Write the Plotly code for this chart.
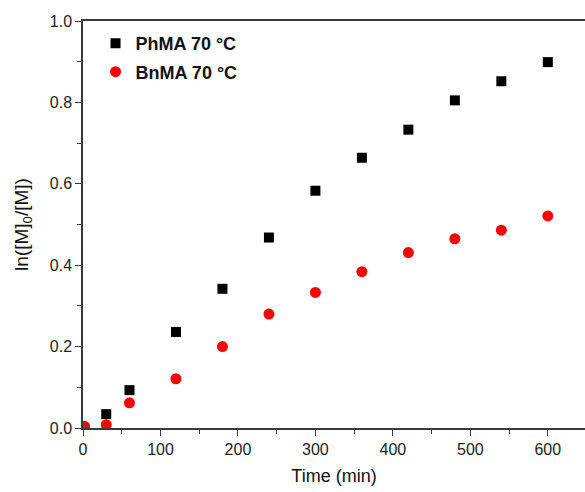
import plotly.graph_objects as go

time_phma = [30, 60, 120, 180, 240, 300, 360, 420, 480, 540, 600]
ln_phma = [0.034, 0.093, 0.236, 0.342, 0.468, 0.583, 0.664, 0.733, 0.805, 0.852, 0.899]

time_bnma = [2, 30, 60, 120, 180, 240, 300, 360, 420, 480, 540, 600]
ln_bnma = [0.004, 0.008, 0.062, 0.121, 0.200, 0.280, 0.333, 0.384, 0.431, 0.465, 0.486, 0.521]

fig = go.Figure()
fig.add_trace(go.Scatter(x=time_phma, y=ln_phma, mode="markers", name="PhMA 70 °C",
                         legendgroup="a",
                         marker=dict(symbol="square", size=10, color="black")))
fig.add_trace(go.Scatter(x=time_bnma, y=ln_bnma, mode="markers", name="BnMA 70 °C",
                         legendgroup="b",
                         marker=dict(symbol="circle", size=11, color="#ff0000")))

axis_common = dict(
    showline=True, linecolor="#3a3a3a", linewidth=1.5,
    ticks="outside", ticklen=6, tickwidth=1.2, tickcolor="#3a3a3a",
    showgrid=False, zeroline=False,
    tickfont=dict(family="Liberation Sans, Arial", size=16, color="#222"),
)

fig.update_layout(
    width=585, height=492,
    margin=dict(l=83, r=0, t=21, b=64),
    plot_bgcolor="white", paper_bgcolor="white",
    showlegend=True,
    legend=dict(x=0.025, y=0.99, xanchor="left", yanchor="top",
                font=dict(family="Liberation Sans, Arial", size=18, color="#111", weight="bold"),
                bgcolor="rgba(0,0,0,0)", itemwidth=30, tracegroupgap=2),
    xaxis=dict(range=[0, 648], dtick=100, tick0=0, mirror=True,
               minor=dict(dtick=50, ticks="outside", ticklen=4, tickcolor="#3a3a3a"),
               title=dict(text="Time (min)", font=dict(family="Liberation Sans, Arial", size=18, color="#111"),
                          standoff=12),
               **axis_common),
    yaxis=dict(range=[0, 1.0], dtick=0.2, tick0=0, tickformat=".1f",
               minor=dict(dtick=0.1, ticks="outside", ticklen=4, tickcolor="#3a3a3a"),
               title=dict(text="ln([M]<sub>0</sub>/[M])", font=dict(family="Liberation Sans, Arial", size=19, color="#111"),
                          standoff=16),
               **axis_common),
)

fig.write_html("out.html")
